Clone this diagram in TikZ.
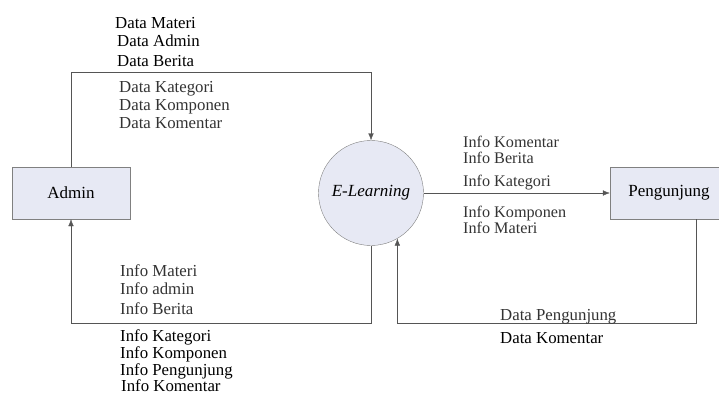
\documentclass[tikz,border=0pt]{standalone}
\usepackage{fontspec}
\setmainfont{Liberation Serif}
\usetikzlibrary{arrows.meta}

\definecolor{boxfill}{HTML}{E7E9F4}
\definecolor{linegray}{HTML}{555555}
\definecolor{txtgray}{HTML}{333333}

\begin{document}
\begin{tikzpicture}[x=1pt, y=-1pt,
    entity/.style={draw=gray, fill=boxfill, minimum width=118pt, minimum height=52pt, font=\fontsize{17}{20}\selectfont},
    process/.style={circle, draw=gray, fill=boxfill, minimum size=105pt, inner sep=0pt, font=\fontsize{17}{20}\selectfont\itshape},
    flow/.style={draw=linegray, -{Latex[length=7pt,width=5.5pt]}},
    lbl/.style={anchor=base west, inner sep=0pt, font=\fontsize{16.8}{20}\selectfont},
    slbl/.style={lbl, font=\fontsize{16.2}{18}\selectfont}]
    \useasboundingbox (0,0) rectangle (719,394);

    % Draw entities and the process
    \node[entity] (admin) at (71,193) {Admin};
    \node[process] (elearn) at (371,193) {E-Learning};
    \node[entity] (pengunjung) at (669,193) {Pengunjung};

    % Draw data flows
    \draw[flow] (admin.north) -- ++(0,-95) -| (elearn.north);
    \draw[flow] (elearn.south) -- ++(0,77.5) -| (admin.south);
    \draw[flow] (elearn.east) -- (pengunjung.west);
    \draw[flow] ([xshift=27pt]pengunjung.south) -- ++(0,104) -| (elearn.-60);

    % Labels: Admin to E-Learning
    \node[lbl] (dmateri) at (115,28) {Data Materi};
    \node[lbl] (dadmin) at (117,46) {Data Admin};
    \node[lbl] (dberita) at (117,66) {Data Berita};
    \node[lbl, txtgray] (dkategori) at (119,92) {Data Kategori};
    \node[lbl, txtgray] (dkomponen) at (119,110) {Data Komponen};
    \node[lbl, txtgray] (dkomentar) at (119,128) {Data Komentar};

    % Labels: E-Learning to Admin
    \node[lbl, txtgray] (imateri) at (120,276) {Info Materi};
    \node[lbl, txtgray] (iadmin) at (120,294) {Info admin};
    \node[lbl, txtgray] (iberita) at (120,314) {Info Berita};
    \node[lbl] (ikategori) at (120,341) {Info Kategori};
    \node[lbl] (ikomponen) at (120,358) {Info Komponen};
    \node[lbl] (ipengunjung) at (120,375) {Info Pengunjung};
    \node[lbl] (ikomentar) at (121,391) {Info Komentar};

    % Labels: E-Learning to Pengunjung
    \node[slbl, txtgray] (pkomentar) at (463,147) {Info Komentar};
    \node[slbl, txtgray] (pberita) at (463,163) {Info Berita};
    \node[slbl, txtgray] (pkategori) at (463,186) {Info Kategori};
    \node[slbl, txtgray] (pkomponen) at (463,217) {Info Komponen};
    \node[slbl, txtgray] (pmateri) at (463,233) {Info Materi};

    % Labels: Pengunjung to E-Learning
    \node[lbl, txtgray] (dpengunjung) at (500,320) {Data Pengunjung};
    \node[lbl] (dkomentar2) at (500,343) {Data Komentar};
\end{tikzpicture}
\end{document}
